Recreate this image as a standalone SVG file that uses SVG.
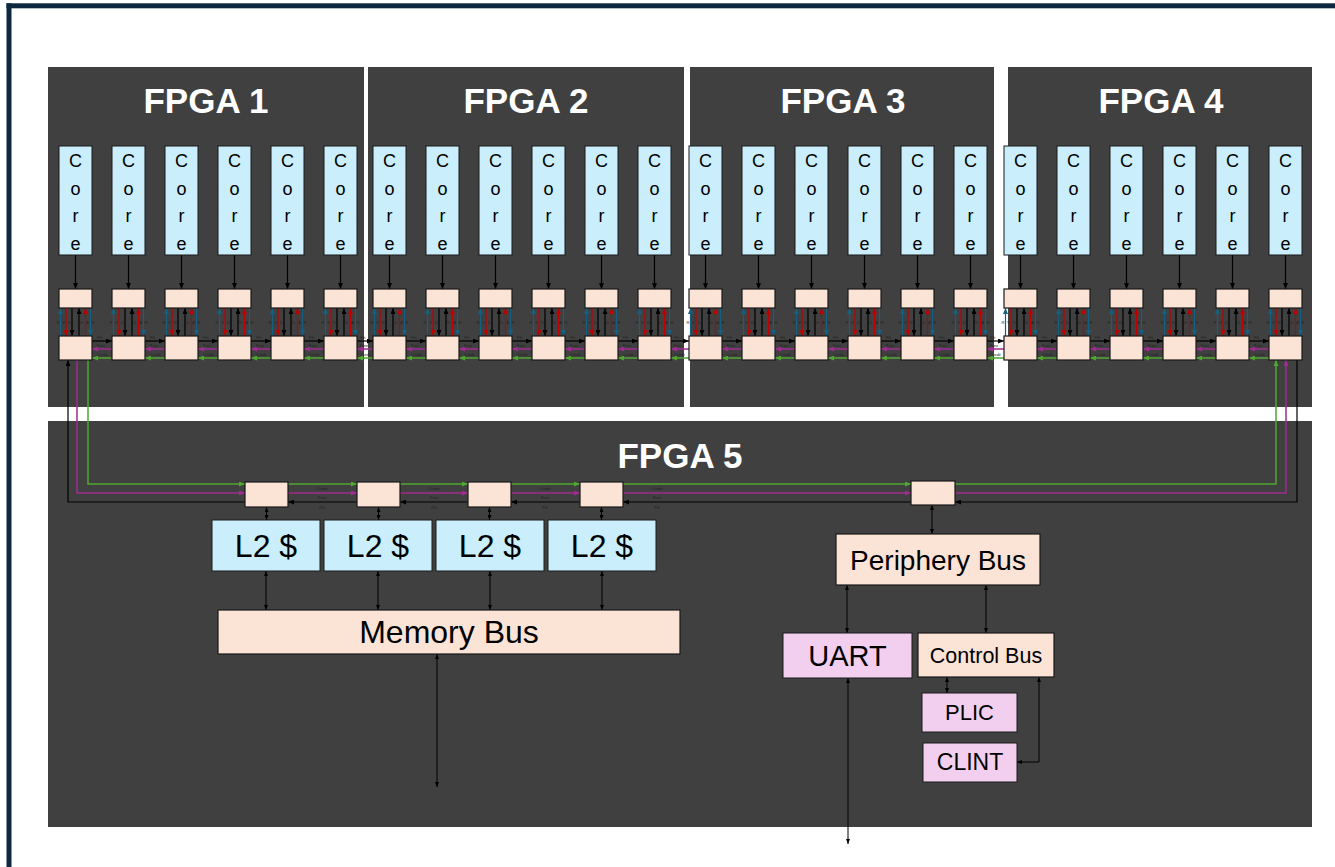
<svg xmlns="http://www.w3.org/2000/svg" xmlns:xlink="http://www.w3.org/1999/xlink" width="1335" height="867" viewBox="0 0 1335 867">
<style>
.pnl{fill:#404040}
.core{fill:#CAEEFB;stroke:#1a1a1a;stroke-width:1}
.rt{fill:#FBE3D6;stroke:#1a1a1a;stroke-width:1.2}
.pk{fill:#F2CFEE;stroke:#1a1a1a;stroke-width:1}
.ttl{font-family:"Liberation Sans",Arial,sans-serif;font-weight:bold;font-size:35px;fill:#ffffff;text-anchor:middle}
.ct{font-family:"Liberation Sans",Arial,sans-serif;font-size:18px;fill:#000;text-anchor:middle}
.lbl{font-family:"Liberation Sans",Arial,sans-serif;fill:#000;text-anchor:middle}
.tiny{font-family:"Liberation Sans",Arial,sans-serif;font-size:4px;fill:#222}
.tm{text-anchor:middle}
.lk{stroke:#000;stroke-width:1.2;fill:none}
.lr{stroke:#C00000;stroke-width:1.2;fill:none}
.lb{stroke:#156082;stroke-width:1.2;fill:none}
.lp{stroke:#A02B93;stroke-width:1.5;fill:none}
.lg{stroke:#4EA72E;stroke-width:1.5;fill:none}
.ld{stroke:#000;stroke-width:1;fill:none}
</style>
<defs>
<marker id="mk" viewBox="0 0 6 5" refX="6" refY="2.5" markerWidth="6" markerHeight="5" markerUnits="userSpaceOnUse" orient="auto-start-reverse"><path d="M0,0L6,2.5L0,5z" fill="#000"/></marker>
<marker id="mr" viewBox="0 0 6 5" refX="6" refY="2.5" markerWidth="6" markerHeight="5" markerUnits="userSpaceOnUse" orient="auto-start-reverse"><path d="M0,0L6,2.5L0,5z" fill="#C00000"/></marker>
<marker id="mb" viewBox="0 0 6 5" refX="6" refY="2.5" markerWidth="6" markerHeight="5" markerUnits="userSpaceOnUse" orient="auto-start-reverse"><path d="M0,0L6,2.5L0,5z" fill="#156082"/></marker>
<marker id="mp" viewBox="0 0 6 5" refX="6" refY="2.5" markerWidth="6" markerHeight="5" markerUnits="userSpaceOnUse" orient="auto-start-reverse"><path d="M0,0L6,2.5L0,5z" fill="#A02B93"/></marker>
<marker id="mg" viewBox="0 0 6 5" refX="6" refY="2.5" markerWidth="6" markerHeight="5" markerUnits="userSpaceOnUse" orient="auto-start-reverse"><path d="M0,0L6,2.5L0,5z" fill="#4EA72E"/></marker>
<marker id="md" viewBox="0 0 5 4" refX="5" refY="2" markerWidth="5" markerHeight="4" markerUnits="userSpaceOnUse" orient="auto-start-reverse"><path d="M0,0L5,2L0,4z" fill="#000"/></marker>
<g id="vl">
<line class="lk" x1="16.5" y1="255" x2="16.5" y2="289" marker-end="url(#mk)"/>
<line class="lb" x1="1.5" y1="336" x2="1.5" y2="308" marker-end="url(#mb)"/>
<line class="lr" x1="7" y1="308" x2="7" y2="336" marker-end="url(#mr)"/>
<line class="lk" x1="13" y1="308" x2="13" y2="336" marker-end="url(#mk)"/>
<line class="lk" x1="20" y1="336" x2="20" y2="308" marker-end="url(#mk)"/>
<line class="lr" x1="26.5" y1="336" x2="26.5" y2="308" marker-end="url(#mr)"/>
<line class="lb" x1="31.5" y1="308" x2="31.5" y2="336" marker-end="url(#mb)"/>
<text class="tiny" x="-2.5" y="324">R</text>
<text class="tiny" x="3.3" y="324">V</text>
<text class="tiny" x="9" y="324">D</text>
<text class="tiny" x="21.3" y="324">D</text>
<text class="tiny" x="27.3" y="324">A</text>
<text class="tiny" x="32.6" y="324">R</text>
</g>
<g id="hl">
<line class="lk" x1="33" y1="341" x2="53" y2="341" marker-end="url(#mk)"/>
<line class="lp" x1="53" y1="349" x2="33" y2="349" marker-end="url(#mp)"/>
<line class="lg" x1="53" y1="358" x2="33" y2="358" marker-end="url(#mg)"/>
<text class="tiny" x="38" y="339">Flit</text>
<text class="tiny" x="38" y="347">Free</text>
<text class="tiny" x="38" y="356">Credit</text>
</g>
</defs>
<rect x="0" y="0" width="1335" height="867" fill="#ffffff"/>
<g id="frame">
<rect x="6.5" y="3.3" width="1328.5" height="5" fill="#0E2841"/>
<rect x="6.5" y="3.3" width="5" height="863.7" fill="#0E2841"/>
</g>

<g id="boards">
<g id="fpga1"><rect class="pnl" x="48" y="67" width="316" height="340"/><text class="ttl" x="206" y="113">FPGA 1</text></g>
<g id="fpga2"><rect class="pnl" x="368" y="67" width="316" height="340"/><text class="ttl" x="526" y="113">FPGA 2</text></g>
<g id="fpga3"><rect class="pnl" x="690" y="67" width="304" height="340"/><text class="ttl" x="843" y="113">FPGA 3</text></g>
<g id="fpga4"><rect class="pnl" x="1008" y="67" width="304" height="340"/><text class="ttl" x="1161" y="113">FPGA 4</text></g>
<g id="fpga5"><rect class="pnl" x="48" y="421" width="1264" height="406"/><text class="ttl" x="680" y="468">FPGA 5</text></g>
</g>

<g id="connectors">
<use xlink:href="#vl" href="#vl" x="59"/><use xlink:href="#vl" href="#vl" x="112"/><use xlink:href="#vl" href="#vl" x="165"/><use xlink:href="#vl" href="#vl" x="218"/><use xlink:href="#vl" href="#vl" x="271"/><use xlink:href="#vl" href="#vl" x="324"/>
<use xlink:href="#vl" href="#vl" x="373"/><use xlink:href="#vl" href="#vl" x="426"/><use xlink:href="#vl" href="#vl" x="479"/><use xlink:href="#vl" href="#vl" x="532"/><use xlink:href="#vl" href="#vl" x="585"/><use xlink:href="#vl" href="#vl" x="638"/>
<use xlink:href="#vl" href="#vl" x="689"/><use xlink:href="#vl" href="#vl" x="742"/><use xlink:href="#vl" href="#vl" x="795"/><use xlink:href="#vl" href="#vl" x="848"/><use xlink:href="#vl" href="#vl" x="901"/><use xlink:href="#vl" href="#vl" x="954"/>
<use xlink:href="#vl" href="#vl" x="1004"/><use xlink:href="#vl" href="#vl" x="1057"/><use xlink:href="#vl" href="#vl" x="1110"/><use xlink:href="#vl" href="#vl" x="1163"/><use xlink:href="#vl" href="#vl" x="1216"/><use xlink:href="#vl" href="#vl" x="1269"/>

<use xlink:href="#hl" href="#hl" x="59"/><use xlink:href="#hl" href="#hl" x="112"/><use xlink:href="#hl" href="#hl" x="165"/><use xlink:href="#hl" href="#hl" x="218"/><use xlink:href="#hl" href="#hl" x="271"/>
<use xlink:href="#hl" href="#hl" x="373"/><use xlink:href="#hl" href="#hl" x="426"/><use xlink:href="#hl" href="#hl" x="479"/><use xlink:href="#hl" href="#hl" x="532"/><use xlink:href="#hl" href="#hl" x="585"/>
<use xlink:href="#hl" href="#hl" x="689"/><use xlink:href="#hl" href="#hl" x="742"/><use xlink:href="#hl" href="#hl" x="795"/><use xlink:href="#hl" href="#hl" x="848"/><use xlink:href="#hl" href="#hl" x="901"/>
<use xlink:href="#hl" href="#hl" x="1004"/><use xlink:href="#hl" href="#hl" x="1057"/><use xlink:href="#hl" href="#hl" x="1110"/><use xlink:href="#hl" href="#hl" x="1163"/><use xlink:href="#hl" href="#hl" x="1216"/>

<line class="lk" x1="357" y1="341" x2="373" y2="341" marker-end="url(#mk)"/>
<line class="lp" x1="373" y1="349" x2="357" y2="349" marker-end="url(#mp)"/>
<line class="lg" x1="373" y1="358" x2="357" y2="358" marker-end="url(#mg)"/>
<text class="tiny" x="360" y="339">Flit</text><text class="tiny" x="360" y="347">Free</text><text class="tiny" x="360" y="356">Credit</text>
<line class="lk" x1="671" y1="341" x2="689" y2="341" marker-end="url(#mk)"/>
<line class="lp" x1="689" y1="349" x2="671" y2="349" marker-end="url(#mp)"/>
<line class="lg" x1="689" y1="358" x2="671" y2="358" marker-end="url(#mg)"/>
<text class="tiny" x="674" y="339">Flit</text><text class="tiny" x="674" y="347">Free</text><text class="tiny" x="674" y="356">Credit</text>
<line class="lk" x1="987" y1="341" x2="1004" y2="341" marker-end="url(#mk)"/>
<line class="lp" x1="1004" y1="349" x2="987" y2="349" marker-end="url(#mp)"/>
<line class="lg" x1="1004" y1="358" x2="987" y2="358" marker-end="url(#mg)"/>
<text class="tiny" x="990" y="339">Flit</text><text class="tiny" x="990" y="347">Free</text><text class="tiny" x="990" y="356">Credit</text>

<path class="lg" d="M88 360V484H245" marker-end="url(#mg)"/>
<path class="lp" d="M77 360V493H245" marker-end="url(#mp)"/>
<path class="lk" d="M245 502H68V360" marker-end="url(#mk)"/>
<line class="lg" x1="288" y1="484" x2="357" y2="484" marker-end="url(#mg)"/>
<line class="lp" x1="288" y1="493" x2="357" y2="493" marker-end="url(#mp)"/>
<line class="lk" x1="357" y1="502" x2="288" y2="502" marker-end="url(#mk)"/>
<line class="lg" x1="400" y1="484" x2="468" y2="484" marker-end="url(#mg)"/>
<line class="lp" x1="400" y1="493" x2="468" y2="493" marker-end="url(#mp)"/>
<line class="lk" x1="468" y1="502" x2="400" y2="502" marker-end="url(#mk)"/>
<line class="lg" x1="511" y1="484" x2="580" y2="484" marker-end="url(#mg)"/>
<line class="lp" x1="511" y1="493" x2="580" y2="493" marker-end="url(#mp)"/>
<line class="lk" x1="580" y1="502" x2="511" y2="502" marker-end="url(#mk)"/>
<line class="lg" x1="623" y1="484" x2="911" y2="484" marker-end="url(#mg)"/>
<line class="lp" x1="623" y1="493" x2="911" y2="493" marker-end="url(#mp)"/>
<line class="lk" x1="911" y1="502" x2="623" y2="502" marker-end="url(#mk)"/>
<path class="lg" d="M955 484H1276V360" marker-end="url(#mg)"/>
<path class="lp" d="M955 493H1286V360" marker-end="url(#mp)"/>
<path class="lk" d="M1297 360V502H955" marker-end="url(#mk)"/>
<text class="tiny tm" x="322" y="490">Credit</text><text class="tiny tm" x="322" y="499">Free</text><text class="tiny tm" x="322" y="509">Flit</text>
<text class="tiny tm" x="434" y="490">Credit</text><text class="tiny tm" x="434" y="499">Free</text><text class="tiny tm" x="434" y="509">Flit</text>
<text class="tiny tm" x="545" y="490">Credit</text><text class="tiny tm" x="545" y="499">Free</text><text class="tiny tm" x="545" y="509">Flit</text>
<text class="tiny tm" x="657" y="490">Credit</text><text class="tiny tm" x="657" y="499">Free</text><text class="tiny tm" x="657" y="509">Flit</text>

<line class="ld" x1="266.5" y1="507" x2="266.5" y2="520" marker-start="url(#md)" marker-end="url(#md)"/>
<line class="ld" x1="378.5" y1="507" x2="378.5" y2="520" marker-start="url(#md)" marker-end="url(#md)"/>
<line class="ld" x1="489.5" y1="507" x2="489.5" y2="520" marker-start="url(#md)" marker-end="url(#md)"/>
<line class="ld" x1="601.5" y1="507" x2="601.5" y2="520" marker-start="url(#md)" marker-end="url(#md)"/>
<line class="ld" x1="266" y1="571" x2="266" y2="610" marker-start="url(#md)" marker-end="url(#md)"/>
<line class="ld" x1="378" y1="571" x2="378" y2="610" marker-start="url(#md)" marker-end="url(#md)"/>
<line class="ld" x1="490" y1="571" x2="490" y2="610" marker-start="url(#md)" marker-end="url(#md)"/>
<line class="ld" x1="602" y1="571" x2="602" y2="610" marker-start="url(#md)" marker-end="url(#md)"/>
<line class="ld" x1="437" y1="654" x2="437" y2="787" marker-start="url(#md)" marker-end="url(#md)"/>
<line class="ld" x1="932" y1="505" x2="932" y2="534" marker-start="url(#md)" marker-end="url(#md)"/>
<line class="ld" x1="847" y1="585" x2="847" y2="633" marker-start="url(#md)" marker-end="url(#md)"/>
<line class="ld" x1="986" y1="585" x2="986" y2="633" marker-start="url(#md)" marker-end="url(#md)"/>
<line class="ld" x1="848" y1="678" x2="848" y2="844" marker-start="url(#md)" marker-end="url(#md)"/>
<line class="ld" x1="947" y1="677" x2="947" y2="693" marker-start="url(#md)" marker-end="url(#md)"/>
<path class="ld" d="M1017 762H1039V677" marker-start="url(#md)" marker-end="url(#md)"/>
</g>

<g id="nodes">
<g id="f1-core1"><rect class="core" x="59" y="146" width="33" height="109"/><text class="ct" x="75.5" y="167">C<tspan x="75.5" dy="27.5">o</tspan><tspan x="75.5" dy="27.5">r</tspan><tspan x="75.5" dy="27.5">e</tspan></text></g>
<g id="f1-core2"><rect class="core" x="112" y="146" width="33" height="109"/><text class="ct" x="128.5" y="167">C<tspan x="128.5" dy="27.5">o</tspan><tspan x="128.5" dy="27.5">r</tspan><tspan x="128.5" dy="27.5">e</tspan></text></g>
<g id="f1-core3"><rect class="core" x="165" y="146" width="33" height="109"/><text class="ct" x="181.5" y="167">C<tspan x="181.5" dy="27.5">o</tspan><tspan x="181.5" dy="27.5">r</tspan><tspan x="181.5" dy="27.5">e</tspan></text></g>
<g id="f1-core4"><rect class="core" x="218" y="146" width="33" height="109"/><text class="ct" x="234.5" y="167">C<tspan x="234.5" dy="27.5">o</tspan><tspan x="234.5" dy="27.5">r</tspan><tspan x="234.5" dy="27.5">e</tspan></text></g>
<g id="f1-core5"><rect class="core" x="271" y="146" width="33" height="109"/><text class="ct" x="287.5" y="167">C<tspan x="287.5" dy="27.5">o</tspan><tspan x="287.5" dy="27.5">r</tspan><tspan x="287.5" dy="27.5">e</tspan></text></g>
<g id="f1-core6"><rect class="core" x="324" y="146" width="33" height="109"/><text class="ct" x="340.5" y="167">C<tspan x="340.5" dy="27.5">o</tspan><tspan x="340.5" dy="27.5">r</tspan><tspan x="340.5" dy="27.5">e</tspan></text></g>
<g id="f2-core1"><rect class="core" x="373" y="146" width="33" height="109"/><text class="ct" x="389.5" y="167">C<tspan x="389.5" dy="27.5">o</tspan><tspan x="389.5" dy="27.5">r</tspan><tspan x="389.5" dy="27.5">e</tspan></text></g>
<g id="f2-core2"><rect class="core" x="426" y="146" width="33" height="109"/><text class="ct" x="442.5" y="167">C<tspan x="442.5" dy="27.5">o</tspan><tspan x="442.5" dy="27.5">r</tspan><tspan x="442.5" dy="27.5">e</tspan></text></g>
<g id="f2-core3"><rect class="core" x="479" y="146" width="33" height="109"/><text class="ct" x="495.5" y="167">C<tspan x="495.5" dy="27.5">o</tspan><tspan x="495.5" dy="27.5">r</tspan><tspan x="495.5" dy="27.5">e</tspan></text></g>
<g id="f2-core4"><rect class="core" x="532" y="146" width="33" height="109"/><text class="ct" x="548.5" y="167">C<tspan x="548.5" dy="27.5">o</tspan><tspan x="548.5" dy="27.5">r</tspan><tspan x="548.5" dy="27.5">e</tspan></text></g>
<g id="f2-core5"><rect class="core" x="585" y="146" width="33" height="109"/><text class="ct" x="601.5" y="167">C<tspan x="601.5" dy="27.5">o</tspan><tspan x="601.5" dy="27.5">r</tspan><tspan x="601.5" dy="27.5">e</tspan></text></g>
<g id="f2-core6"><rect class="core" x="638" y="146" width="33" height="109"/><text class="ct" x="654.5" y="167">C<tspan x="654.5" dy="27.5">o</tspan><tspan x="654.5" dy="27.5">r</tspan><tspan x="654.5" dy="27.5">e</tspan></text></g>
<g id="f3-core1"><rect class="core" x="689" y="146" width="33" height="109"/><text class="ct" x="705.5" y="167">C<tspan x="705.5" dy="27.5">o</tspan><tspan x="705.5" dy="27.5">r</tspan><tspan x="705.5" dy="27.5">e</tspan></text></g>
<g id="f3-core2"><rect class="core" x="742" y="146" width="33" height="109"/><text class="ct" x="758.5" y="167">C<tspan x="758.5" dy="27.5">o</tspan><tspan x="758.5" dy="27.5">r</tspan><tspan x="758.5" dy="27.5">e</tspan></text></g>
<g id="f3-core3"><rect class="core" x="795" y="146" width="33" height="109"/><text class="ct" x="811.5" y="167">C<tspan x="811.5" dy="27.5">o</tspan><tspan x="811.5" dy="27.5">r</tspan><tspan x="811.5" dy="27.5">e</tspan></text></g>
<g id="f3-core4"><rect class="core" x="848" y="146" width="33" height="109"/><text class="ct" x="864.5" y="167">C<tspan x="864.5" dy="27.5">o</tspan><tspan x="864.5" dy="27.5">r</tspan><tspan x="864.5" dy="27.5">e</tspan></text></g>
<g id="f3-core5"><rect class="core" x="901" y="146" width="33" height="109"/><text class="ct" x="917.5" y="167">C<tspan x="917.5" dy="27.5">o</tspan><tspan x="917.5" dy="27.5">r</tspan><tspan x="917.5" dy="27.5">e</tspan></text></g>
<g id="f3-core6"><rect class="core" x="954" y="146" width="33" height="109"/><text class="ct" x="970.5" y="167">C<tspan x="970.5" dy="27.5">o</tspan><tspan x="970.5" dy="27.5">r</tspan><tspan x="970.5" dy="27.5">e</tspan></text></g>
<g id="f4-core1"><rect class="core" x="1004" y="146" width="33" height="109"/><text class="ct" x="1020.5" y="167">C<tspan x="1020.5" dy="27.5">o</tspan><tspan x="1020.5" dy="27.5">r</tspan><tspan x="1020.5" dy="27.5">e</tspan></text></g>
<g id="f4-core2"><rect class="core" x="1057" y="146" width="33" height="109"/><text class="ct" x="1073.5" y="167">C<tspan x="1073.5" dy="27.5">o</tspan><tspan x="1073.5" dy="27.5">r</tspan><tspan x="1073.5" dy="27.5">e</tspan></text></g>
<g id="f4-core3"><rect class="core" x="1110" y="146" width="33" height="109"/><text class="ct" x="1126.5" y="167">C<tspan x="1126.5" dy="27.5">o</tspan><tspan x="1126.5" dy="27.5">r</tspan><tspan x="1126.5" dy="27.5">e</tspan></text></g>
<g id="f4-core4"><rect class="core" x="1163" y="146" width="33" height="109"/><text class="ct" x="1179.5" y="167">C<tspan x="1179.5" dy="27.5">o</tspan><tspan x="1179.5" dy="27.5">r</tspan><tspan x="1179.5" dy="27.5">e</tspan></text></g>
<g id="f4-core5"><rect class="core" x="1216" y="146" width="33" height="109"/><text class="ct" x="1232.5" y="167">C<tspan x="1232.5" dy="27.5">o</tspan><tspan x="1232.5" dy="27.5">r</tspan><tspan x="1232.5" dy="27.5">e</tspan></text></g>
<g id="f4-core6"><rect class="core" x="1269" y="146" width="33" height="109"/><text class="ct" x="1285.5" y="167">C<tspan x="1285.5" dy="27.5">o</tspan><tspan x="1285.5" dy="27.5">r</tspan><tspan x="1285.5" dy="27.5">e</tspan></text></g>

<g id="f1-ra1"><rect class="rt" x="59" y="289" width="33" height="19"/></g><g id="f1-rb1"><rect class="rt" x="59" y="336" width="33" height="24"/></g>
<g id="f1-ra2"><rect class="rt" x="112" y="289" width="33" height="19"/></g><g id="f1-rb2"><rect class="rt" x="112" y="336" width="33" height="24"/></g>
<g id="f1-ra3"><rect class="rt" x="165" y="289" width="33" height="19"/></g><g id="f1-rb3"><rect class="rt" x="165" y="336" width="33" height="24"/></g>
<g id="f1-ra4"><rect class="rt" x="218" y="289" width="33" height="19"/></g><g id="f1-rb4"><rect class="rt" x="218" y="336" width="33" height="24"/></g>
<g id="f1-ra5"><rect class="rt" x="271" y="289" width="33" height="19"/></g><g id="f1-rb5"><rect class="rt" x="271" y="336" width="33" height="24"/></g>
<g id="f1-ra6"><rect class="rt" x="324" y="289" width="33" height="19"/></g><g id="f1-rb6"><rect class="rt" x="324" y="336" width="33" height="24"/></g>
<g id="f2-ra1"><rect class="rt" x="373" y="289" width="33" height="19"/></g><g id="f2-rb1"><rect class="rt" x="373" y="336" width="33" height="24"/></g>
<g id="f2-ra2"><rect class="rt" x="426" y="289" width="33" height="19"/></g><g id="f2-rb2"><rect class="rt" x="426" y="336" width="33" height="24"/></g>
<g id="f2-ra3"><rect class="rt" x="479" y="289" width="33" height="19"/></g><g id="f2-rb3"><rect class="rt" x="479" y="336" width="33" height="24"/></g>
<g id="f2-ra4"><rect class="rt" x="532" y="289" width="33" height="19"/></g><g id="f2-rb4"><rect class="rt" x="532" y="336" width="33" height="24"/></g>
<g id="f2-ra5"><rect class="rt" x="585" y="289" width="33" height="19"/></g><g id="f2-rb5"><rect class="rt" x="585" y="336" width="33" height="24"/></g>
<g id="f2-ra6"><rect class="rt" x="638" y="289" width="33" height="19"/></g><g id="f2-rb6"><rect class="rt" x="638" y="336" width="33" height="24"/></g>
<g id="f3-ra1"><rect class="rt" x="689" y="289" width="33" height="19"/></g><g id="f3-rb1"><rect class="rt" x="689" y="336" width="33" height="24"/></g>
<g id="f3-ra2"><rect class="rt" x="742" y="289" width="33" height="19"/></g><g id="f3-rb2"><rect class="rt" x="742" y="336" width="33" height="24"/></g>
<g id="f3-ra3"><rect class="rt" x="795" y="289" width="33" height="19"/></g><g id="f3-rb3"><rect class="rt" x="795" y="336" width="33" height="24"/></g>
<g id="f3-ra4"><rect class="rt" x="848" y="289" width="33" height="19"/></g><g id="f3-rb4"><rect class="rt" x="848" y="336" width="33" height="24"/></g>
<g id="f3-ra5"><rect class="rt" x="901" y="289" width="33" height="19"/></g><g id="f3-rb5"><rect class="rt" x="901" y="336" width="33" height="24"/></g>
<g id="f3-ra6"><rect class="rt" x="954" y="289" width="33" height="19"/></g><g id="f3-rb6"><rect class="rt" x="954" y="336" width="33" height="24"/></g>
<g id="f4-ra1"><rect class="rt" x="1004" y="289" width="33" height="19"/></g><g id="f4-rb1"><rect class="rt" x="1004" y="336" width="33" height="24"/></g>
<g id="f4-ra2"><rect class="rt" x="1057" y="289" width="33" height="19"/></g><g id="f4-rb2"><rect class="rt" x="1057" y="336" width="33" height="24"/></g>
<g id="f4-ra3"><rect class="rt" x="1110" y="289" width="33" height="19"/></g><g id="f4-rb3"><rect class="rt" x="1110" y="336" width="33" height="24"/></g>
<g id="f4-ra4"><rect class="rt" x="1163" y="289" width="33" height="19"/></g><g id="f4-rb4"><rect class="rt" x="1163" y="336" width="33" height="24"/></g>
<g id="f4-ra5"><rect class="rt" x="1216" y="289" width="33" height="19"/></g><g id="f4-rb5"><rect class="rt" x="1216" y="336" width="33" height="24"/></g>
<g id="f4-ra6"><rect class="rt" x="1269" y="289" width="33" height="19"/></g><g id="f4-rb6"><rect class="rt" x="1269" y="336" width="33" height="24"/></g>

<g id="f5-r1"><rect class="rt" x="245" y="482" width="43" height="25"/></g>
<g id="f5-r2"><rect class="rt" x="357" y="482" width="43" height="25"/></g>
<g id="f5-r3"><rect class="rt" x="468" y="482" width="43" height="25"/></g>
<g id="f5-r4"><rect class="rt" x="580" y="482" width="43" height="25"/></g>
<g id="f5-r5"><rect class="rt" x="911" y="481" width="44" height="24"/></g>

<g id="l2-1"><rect class="core" x="212" y="520" width="108" height="51"/><text class="lbl" x="266" y="557" font-size="32">L2 $</text></g>
<g id="l2-2"><rect class="core" x="324" y="520" width="108" height="51"/><text class="lbl" x="378" y="557" font-size="32">L2 $</text></g>
<g id="l2-3"><rect class="core" x="436" y="520" width="108" height="51"/><text class="lbl" x="490" y="557" font-size="32">L2 $</text></g>
<g id="l2-4"><rect class="core" x="548" y="520" width="108" height="51"/><text class="lbl" x="602" y="557" font-size="32">L2 $</text></g>
<g id="membus"><rect class="rt" x="218" y="610" width="462" height="44"/><text class="lbl" x="449" y="643" font-size="32">Memory Bus</text></g>
<g id="peribus"><rect class="rt" x="836" y="534" width="204" height="51"/><text class="lbl" x="938" y="570" font-size="28">Periphery Bus</text></g>
<g id="uart"><rect class="pk" x="783" y="633" width="129" height="45"/><text class="lbl" x="847.5" y="666" font-size="29">UART</text></g>
<g id="ctrlbus"><rect class="rt" x="918" y="633" width="136" height="44"/><text class="lbl" x="986" y="663" font-size="21.5">Control Bus</text></g>
<g id="plic"><rect class="pk" x="922" y="693" width="95" height="39"/><text class="lbl" x="969.5" y="720" font-size="22">PLIC</text></g>
<g id="clint"><rect class="pk" x="923" y="743" width="94" height="39"/><text class="lbl" x="970" y="770" font-size="23">CLINT</text></g>
</g>
</svg>
